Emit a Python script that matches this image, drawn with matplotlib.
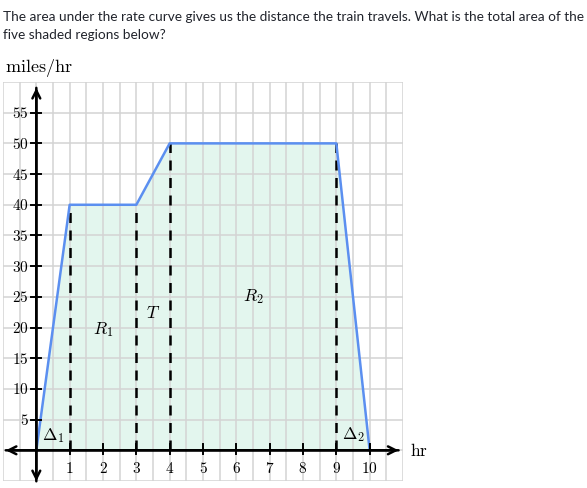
import matplotlib.pyplot as plt
import numpy as np

plt.rcParams['mathtext.fontset'] = 'cm'

# rate curve (hours, miles/hr)
hours = [0, 1, 3, 4, 9, 10]
speeds = [0, 40, 40, 50, 50, 0]

# dashed dividers between the shaded regions
divider_hours = [1, 3, 4, 9]
divider_speeds = [40, 40, 50, 50]

# region labels
region_names = [r'$\Delta_1$', r'$R_1$', r'$T$', r'$R_2$', r'$\Delta_2$']
region_x = [0.5, 2.0, 3.5, 6.5, 9.5]
region_y = [2.6, 19.9, 22.6, 25.2, 2.8]

x_ticks = list(range(1, 11))
y_ticks = list(range(5, 60, 5))

fig = plt.figure(figsize=(5.87, 4.89), dpi=100)
ax = fig.add_axes([3 / 587, 7 / 489, 400 / 587, 399 / 489])
ax.set_xlim(-1, 11)
ax.set_ylim(-5, 60)
for s in ax.spines.values():
    s.set_visible(False)
ax.set_xticks([])
ax.set_yticks([])

# grid
for gx in np.arange(-1, 11.01, 0.5):
    ax.axvline(gx, color='#d4d4d4', lw=1.4, zorder=3, alpha=0.8)
for gy in range(-5, 61, 5):
    ax.axhline(gy, color='#d4d4d4', lw=1.4, zorder=3, alpha=0.8)

# shaded area and curve
ax.fill_between(hours, speeds, 0, color='#e3f6ee', zorder=1, lw=0)
ax.plot(hours, speeds, color='#5b8ff0', lw=1.8, zorder=5)
for hx, hy in zip(divider_hours, divider_speeds):
    ax.plot([hx, hx], [0, hy], color='black', lw=1.8, ls=(0, (4, 3)), zorder=4)

# axes with arrows
arrow = dict(arrowstyle='->', lw=1.8, color='black', mutation_scale=14)
ax.annotate('', xy=(-1.0, 0), xytext=(10.95, 0), arrowprops=arrow,
            annotation_clip=False, zorder=6)
ax.annotate('', xy=(10.95, 0), xytext=(-1.0, 0), arrowprops=arrow,
            annotation_clip=False, zorder=6)
ax.annotate('', xy=(0, 59.5), xytext=(0, -5.5), arrowprops=arrow,
            annotation_clip=False, zorder=6)
ax.annotate('', xy=(0, -5.5), xytext=(0, 59.5), arrowprops=arrow,
            annotation_clip=False, zorder=6)

# ticks and tick labels
for t in x_ticks:
    ax.plot([t, t], [-0.6, 1.0], color='black', lw=1.4, zorder=6)
    ax.text(t, -2.8, f'${t}$', ha='center', va='center', fontsize=11, zorder=7)
for t in y_ticks:
    ax.plot([-0.15, 0.15], [t, t], color='black', lw=1.4, zorder=6)
    ax.text(-0.23, t, f'${t}$', ha='right', va='center', fontsize=11, zorder=7)

for name, rx, ry in zip(region_names, region_x, region_y):
    ax.text(rx, ry, name, ha='center', va='center', fontsize=12.5, zorder=7)

ax.text(11.2, 0, r'$\mathrm{hr}$', ha='left', va='center', fontsize=12.5, clip_on=False)

fig.text(3 / 587, 1 - 17 / 489,
         'The area under the rate curve gives us the distance the train travels. What is the total area of the',
         fontsize=9.8, family='Lato', color='#21242c', va='center', ha='left')
fig.text(3 / 587, 1 - 35 / 489, 'five shaded regions below?',
         fontsize=9.8, family='Lato', color='#21242c', va='center', ha='left')
fig.text(5 / 587, 1 - 68 / 489, r'$\mathrm{miles/hr}$', fontsize=13, va='center', ha='left')

fig.savefig('out.png', dpi=100)
